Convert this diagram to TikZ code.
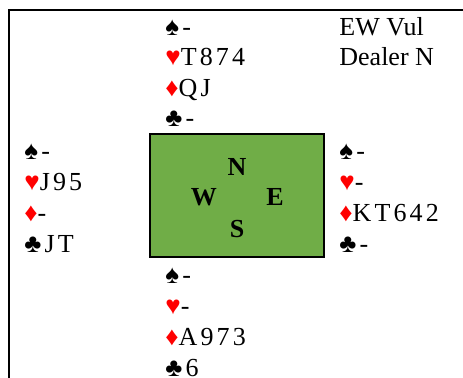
\documentclass[tikz,border=0pt]{standalone}
\usepackage{fontspec}
\setmainfont{Liberation Serif}
\newfontfamily\cardfont{Liberation Serif}[LetterSpace=12]
\definecolor{feltgreen}{HTML}{70AD47}
\newcommand{\handfont}{\fontsize{13}{15.6}\selectfont\cardfont}
\newcommand{\cS}{♠}
\newcommand{\cH}{\textcolor{red}{♥}}
\newcommand{\cD}{\textcolor{red}{♦}}
\newcommand{\cC}{♣}

\begin{document}
\begin{tikzpicture}[x=0.5pt, y=-0.5pt,
    hand/.style={anchor=base west, inner sep=0pt, font=\handfont},
    info/.style={anchor=base west, inner sep=0pt, font=\fontsize{13}{15.6}\selectfont},
    seat/.style={anchor=base, inner sep=0pt, font=\fontsize{13}{15.6}\selectfont\bfseries}]
    \useasboundingbox (0,0) rectangle (463,377);
    %%% Frame
    \draw[line width=1pt] (9,10) rectangle (480,400);
    %%% North
    \node[hand] (ns) at (165,35) {\cS-};
    \node[hand] (nh) at (165,65.5) {\cH T874};
    \node[hand] (nd) at (165,96) {\cD QJ};
    \node[hand] (nc) at (165,126.5) {\cC-};
    \node[info] (vul) at (339,35) {EW Vul};
    \node[info] (dealer) at (339,65.5) {Dealer N};
    %%% West
    \node[hand] (ws) at (24,159) {\cS-};
    \node[hand] (wh) at (24,190) {\cH J95};
    \node[hand] (wd) at (24,221) {\cD-};
    \node[hand] (wc) at (24,252) {\cC JT};
    %%% East
    \node[hand] (es) at (339,159) {\cS-};
    \node[hand] (eh) at (339,190) {\cH-};
    \node[hand] (ed) at (339,221) {\cD KT642};
    \node[hand] (ec) at (339,252) {\cC-};
    %%% Table
    \filldraw[fill=feltgreen, draw=black, line width=1pt] (150,134) rectangle (324,257);
    \node[seat] (north) at (237,175) {N};
    \node[seat] (west) at (204,205) {W};
    \node[seat] (east) at (275,205) {E};
    \node[seat] (south) at (237,237) {S};
    %%% South
    \node[hand] (ss) at (165,283) {\cS-};
    \node[hand] (sh) at (165,314) {\cH-};
    \node[hand] (sd) at (165,345) {\cD A973};
    \node[hand] (sc) at (165,376) {\cC 6};
\end{tikzpicture}
\end{document}
